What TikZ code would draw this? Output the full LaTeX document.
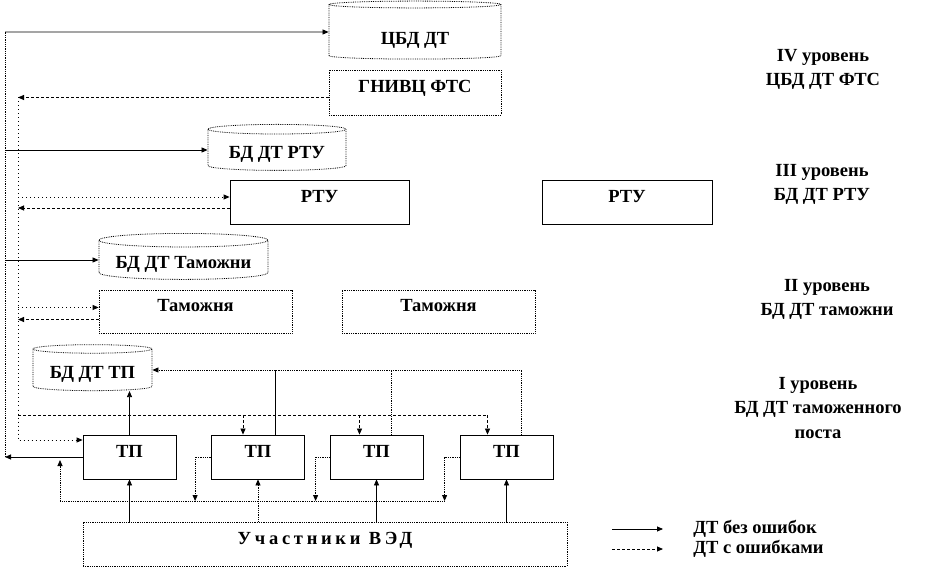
\documentclass[tikz,border=0pt]{standalone}
\usepackage{fontspec}
\setmainfont{Liberation Serif}
\usetikzlibrary{positioning,arrows.meta,shapes.geometric}

\begin{document}
\begin{tikzpicture}[x=1pt,y=-1pt,line width=0.8pt,
  font=\fontsize{18.5}{24.5}\selectfont\bfseries,
  box/.style={draw,rectangle,minimum height=44pt,text height=12pt,text depth=11pt,inner sep=0pt},
  dbox/.style={box,densely dotted},
  dbase/.style={draw,densely dotted,cylinder,shape border rotate=90,aspect=0.1,inner sep=0pt,
    text height=17pt,text depth=0pt},
  tip/.style={-{Triangle[length=6pt,width=5pt]}},
  ok/.style={tip},
  errline/.style={dash pattern=on 3pt off 2pt},
  err/.style={errline,tip},
  loose/.style={tip,dash pattern=on 1pt off 3pt},
  fine/.style={densely dotted}]
\useasboundingbox (0,0) rectangle (927,569);

% level IV
\node[dbase,minimum width=172pt,minimum height=58pt,text height=25pt] (cbd) at (415,32) {ЦБД ДТ};
\node[dbox,minimum width=172pt,minimum height=45pt] (gnivc) at (415,92.5) {ГНИВЦ ФТС};
% level III
\node[dbase,minimum width=138pt,minimum height=46pt] (bdrtu) at (277,150) {БД ДТ РТУ};
\node[box,minimum width=179pt] (rtu1) at (319.5,202) {РТУ};
\node[box,minimum width=170pt] (rtu2) at (627,202) {РТУ};
% level II
\node[dbase,minimum width=169pt,minimum height=46pt] (bdtam) at (183.5,260) {БД ДТ Таможни};
\node[dbox,minimum width=193pt,minimum height=43pt] (tam1) at (195.5,311.5) {Таможня};
\node[dbox,minimum width=193pt,minimum height=43pt] (tam2) at (438.5,311.5) {Таможня};
% level I
\node[dbase,minimum width=119pt,minimum height=46pt] (bdtp) at (92.5,370) {БД ДТ ТП};
\foreach \i/\x in {1/129.5,2/258,3/376.5,4/506.5}
  \node[box,minimum width=93pt] (tp\i) at (\x,457) {ТП};
\node[dbox,minimum width=484pt] (ved) at (325,544) {\addfontfeature{LetterSpace=20}Участники ВЭД};

% level captions
\node[align=center] (lvl4) at (823,69.5) {IV уровень\\ЦБД ДТ ФТС};
\node[align=center] (lvl3) at (822,184.5) {III уровень\\БД ДТ РТУ};
\node[align=center] (lvl2) at (827,299.5) {II уровень\\БД ДТ таможни};
\node[align=center] (lvl1) at (818,408) {I уровень\\БД ДТ таможенного\\поста};

% legend
\node[anchor=west,inner sep=0pt] (lg1) at (693,529) {ДТ без ошибок};
\node[anchor=west,inner sep=0pt] (lg2) at (693,549) {ДТ с ошибками};
\draw[ok] ([xshift=-81pt]lg1.west) -- ([xshift=-30pt]lg1.west);
\draw[err] ([xshift=-81pt]lg2.west) -- ([xshift=-30pt]lg2.west);

% outer line: correct DT up to the databases
\coordinate (lb) at (5,457);
\coordinate (lt) at (5,32);
\draw[ok] (tp1.west) -- (lb);
\draw[fine] (lb) -- (lt);
\draw[ok] (lt) -- (cbd.west);
\draw[ok] (lt |- bdrtu.west) -- (bdrtu.west);
\draw[ok] (lt |- bdtam.west) -- (bdtam.west);

% inner line: DT with errors
\coordinate (it) at (18,97.5);
\coordinate (eb) at (18,415);
\coordinate (rtuin) at ([yshift=5pt]rtu1.west);
\coordinate (rtuout) at ([yshift=-6pt]rtu1.west);
\coordinate (tamin) at ([yshift=4pt]tam1.west);
\coordinate (tamout) at ([yshift=-8pt]tam1.west);
\draw[err] ([yshift=-5pt]gnivc.west) -- (it);
\draw[loose] (it) |- ([yshift=17pt]tp1.west);
\draw[loose] (it |- rtuin) -- (rtuin);
\draw[err] (rtuout) -- (it |- rtuout);
\draw[loose] (it |- tamin) -- (tamin);
\draw[err] (tamout) -- (it |- tamout);

% errors back down to the posts
\coordinate (d2) at ([xshift=-15pt]tp2.north);
\coordinate (d3) at ([xshift=-17pt]tp3.north);
\coordinate (d4) at ([xshift=-19pt]tp4.north);
\draw[errline] (eb) -- (eb -| d4);
\foreach \d in {d2,d3,d4}
  \draw[err] (eb -| \d) -- (\d);

% posts up to БД ДТ ТП
\coordinate (u2) at ([xshift=17pt]tp2.north);
\coordinate (u3) at ([xshift=15pt]tp3.north);
\coordinate (u4) at ([xshift=15pt]tp4.north);
\draw[ok] (tp1.north) -- (tp1.north |- bdtp.south);
\draw[fine,tip] (u4) |- (bdtp.east);
\draw (u2) -- (u2 |- bdtp.east);
\draw[fine] (u3) -- (u3 |- bdtp.east);

% participants up to the posts
\foreach \i in {1,3,4}
  \draw[ok] (tp\i.south |- ved.north) -- (tp\i.south);
\draw[fine,tip] (tp2.south |- ved.north) -- (tp2.south);

% bus under the posts
\coordinate (bl) at (60,501);
\foreach \i/\s in {2/16,3/14,4/15} {
  \coordinate (w\i) at ([xshift=-\s pt]tp\i.west);
  \draw[fine,tip] (tp\i.west) -- (w\i) -- (w\i |- bl);
}
\draw[fine,tip,shorten >=3pt] (w4 |- bl) -- (bl) -- (bl |- tp1.west);
\end{tikzpicture}
\end{document}
